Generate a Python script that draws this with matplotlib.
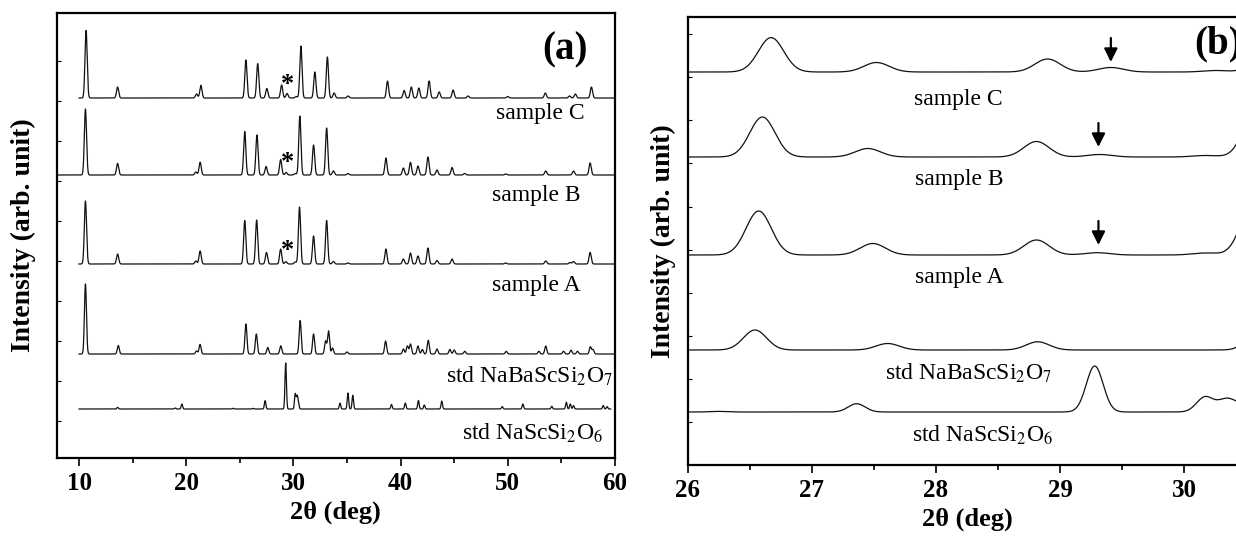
import numpy as np
import matplotlib
matplotlib.use("Agg")
import matplotlib.pyplot as plt

plt.rcParams['font.family'] = ['Liberation Serif', 'DejaVu Serif']
plt.rcParams['mathtext.fontset'] = 'stix'

# peak tables: position (2theta, deg) and height (arb.)
c_pos = [10.66, 13.6, 20.96, 21.37, 25.57, 26.67, 27.52, 28.90, 29.41, 30.26, 30.70,
         32.0, 33.17, 33.8, 35.1, 38.78, 40.33, 41.0, 41.7, 42.66, 43.6, 44.9, 46.3,
         50.0, 53.5, 55.76, 56.3, 57.8]
c_int = [67.5, 11, 4, 12.7, 38, 34.4, 9.5, 13, 4.5, 1.5, 52,
         26, 41, 5, 2, 17, 7.5, 11, 10, 17, 6, 8, 2,
         1.5, 5, 2, 4, 11]

b_pos = [10.6, 13.6, 20.9, 21.3, 25.46, 26.60, 27.45, 28.81, 29.32, 30.17, 30.60,
         31.88, 33.1, 33.73, 35.09, 38.63, 40.26, 40.92, 41.62, 42.55, 43.39, 44.8,
         45.98, 49.8, 53.54, 56.13, 57.68]
b_int = [66, 11.6, 3, 12.7, 43.5, 40, 8.5, 15.5, 2.5, 1.5, 59,
         30, 47, 4, 1.5, 17, 7, 12.7, 9, 18, 5, 7.5,
         1.5, 1, 4, 4, 12]

a_pos = [10.6, 13.6, 20.9, 21.3, 25.46, 26.57, 27.49, 28.81, 29.30, 30.17, 30.57,
         31.88, 33.1, 33.73, 35.09, 38.63, 40.26, 40.92, 41.62, 42.55, 43.39, 44.8,
         49.8, 53.54, 55.8, 56.13, 57.68]
a_int = [63, 10, 3, 13, 43.5, 44, 11.5, 15, 2.3, 2, 57,
         28, 43.5, 2.5, 1, 15, 5, 11, 8, 16, 3.5, 5,
         1, 3, 1.5, 2.5, 11.6]

nba_pos = [10.6, 13.66, 20.96, 21.29, 25.57, 26.54, 27.61, 28.82, 30.63, 31.88,
           33.0, 33.28, 33.65, 35.0, 38.6, 40.26, 40.63, 40.92, 41.62, 42.03, 42.58,
           43.39, 44.6, 45.0, 45.98, 49.85, 52.9, 53.54, 55.2, 55.9, 56.5, 57.7, 57.95]
nba_int = [70, 8.5, 3, 9.6, 30, 20, 6.5, 8.2, 33.5, 20,
           13, 23, 6, 2, 13, 5, 8, 10, 8, 4.5, 13.7,
           5, 4.5, 4, 2.7, 2.7, 2.7, 8, 2.7, 3.8, 2.7, 7.2, 4.5]

nsc_pos = [13.6, 18.97, 19.59, 24.39, 26.25, 27.36, 29.28, 30.17, 30.34, 30.46, 34.35,
           35.09, 35.54, 39.15, 40.44, 41.66, 42.21, 43.84, 49.48, 51.4, 54.1,
           55.46, 55.83, 56.13, 58.9, 59.26]
nsc_int = [1.7, 1, 5, 0.7, 0.6, 8.3, 46, 15, 12, 6, 5.8,
           16, 13.7, 4.5, 6, 8.5, 4, 7.9, 2.4, 5, 2.7,
           6.8, 5, 3.4, 3.4, 2.4]

names = ['sample C', 'sample B', 'sample A',
         r'std NaBaScSi$_2$O$_7$', r'std NaScSi$_2$O$_6$']
positions = [c_pos, b_pos, a_pos, nba_pos, nsc_pos]
heights = [c_int, b_int, a_int, nba_int, nsc_int]
fwhm = [0.24, 0.24, 0.24, 0.22, 0.16]
ranges_a = [(10, 60), (8, 60), (10, 60), (10, 60), (10, 59.6)]

offsets_a = [360, 283, 194, 104, 49]
offsets_b = [393, 308, 210, 115, 53]
star_x = 29.45
arrow_x = [29.41, 29.31, 29.31]


def pattern(x, pos, hgt, w):
    s = w / 2.3548
    y = np.zeros_like(x)
    for p, h in zip(pos, hgt):
        y += h * np.exp(-0.5 * ((x - p) / s) ** 2)
    return y


fig = plt.figure(figsize=(12.36, 5.36), dpi=100)
axa = fig.add_axes([56.5 / 1236, 1 - 458 / 536, 558.5 / 1236, 445 / 536])
axb = fig.add_axes([688 / 1236, 1 - 465 / 536, 558 / 1236, 448 / 536])

# panel (a)
for i in range(5):
    x = np.linspace(ranges_a[i][0], ranges_a[i][1], 5000)
    axa.plot(x, offsets_a[i] + pattern(x, positions[i], heights[i], fwhm[i]),
             color='#111111', lw=0.9)
for i in range(3):
    axa.text(star_x, offsets_a[i] + 13, '*', fontsize=19, fontweight='bold',
             ha='center', va='center')

axa.text(57.2, 345, names[0], fontsize=17, ha='right', va='center')
axa.text(56.8, 263, names[1], fontsize=17, ha='right', va='center')
axa.text(56.8, 172, names[2], fontsize=17, ha='right', va='center')
axa.text(59.8, 82, names[3], fontsize=17, ha='right', va='center')
axa.text(58.9, 25, names[4], fontsize=17, ha='right', va='center')
axa.text(55.3, 408, '(a)', fontsize=28, fontweight='bold', ha='center', va='center')

axa.set_xlim(7.9, 60)
axa.set_ylim(0, 445)
axa.set_xticks([10, 20, 30, 40, 50, 60])
axa.set_xticks([15, 25, 35, 45, 55], minor=True)
axa.set_yticks(np.arange(37, 400, 40))

# panel (b)
xb = np.linspace(26, 30.5, 1500)
for i in range(5):
    axb.plot(xb, offsets_b[i] + pattern(xb, positions[i], heights[i], fwhm[i]),
             color='#111111', lw=0.9)
for i in range(3):
    axb.annotate('', xy=(arrow_x[i], offsets_b[i] + 10), xytext=(arrow_x[i], offsets_b[i] + 34),
                 arrowprops=dict(arrowstyle='-|>', color='k', lw=1.6,
                                 mutation_scale=20, shrinkA=0, shrinkB=0))

axb.text(28.18, 366, names[0], fontsize=17, ha='center', va='center')
axb.text(28.19, 285.5, names[1], fontsize=17, ha='center', va='center')
axb.text(28.19, 188, names[2], fontsize=17, ha='center', va='center')
axb.text(27.59, 92, names[3], fontsize=17, ha='left', va='center')
axb.text(27.81, 30, names[4], fontsize=17, ha='left', va='center')
axb.text(30.08, 421, '(b)', fontsize=28, fontweight='bold', ha='left', va='center')

axb.set_xlim(26, 30.5)
axb.set_ylim(0, 448)
axb.set_xticks([26, 27, 28, 29, 30])
axb.set_xticks([26.5, 27.5, 28.5, 29.5, 30.5], minor=True)
axb.set_yticks(np.arange(43, 440, 43.1))

for ax, lp in ((axa, 15), (axb, 9)):
    for sp in ax.spines.values():
        sp.set_linewidth(1.6)
    ax.tick_params(axis='x', which='major', direction='out', length=6, width=1.2,
                   labelsize=18, pad=4)
    ax.tick_params(axis='x', which='minor', direction='out', length=3.5, width=1.2)
    ax.tick_params(axis='y', direction='in', length=3, width=0.8, labelleft=False)
    for lab in ax.get_xticklabels():
        lab.set_fontweight('bold')
    ax.set_xlabel(r'2θ (deg)', fontsize=19, fontweight='bold', labelpad=4)
    ax.set_ylabel('Intensity (arb. unit)', fontsize=20, fontweight='bold', labelpad=lp)

fig.savefig('out.png', dpi=100)
